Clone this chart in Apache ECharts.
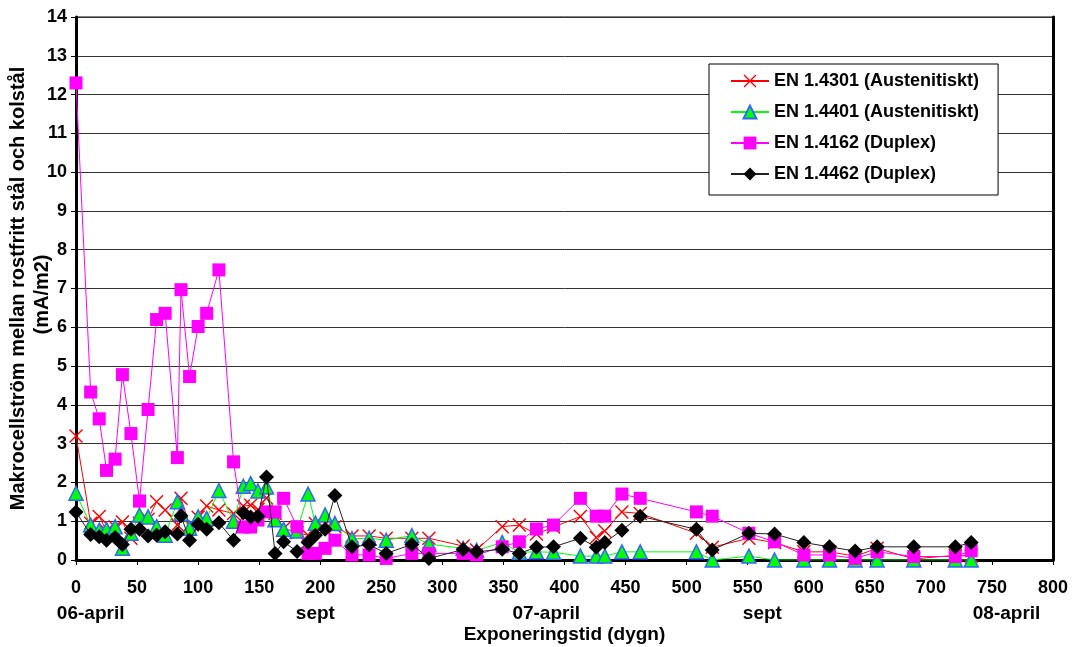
<!DOCTYPE html>
<html>
<head>
<meta charset="utf-8">
<script src="https://cdn.jsdelivr.net/npm/echarts@6/dist/echarts.min.js"></script>
<style>
  html, body { margin: 0; padding: 0; background: #fff; }
  #chart { width: 1073px; height: 647px; }
</style>
</head>
<body>
<div id="chart"></div>
<script>
// Exposure time in days for each measurement
const days = [0, 12, 19, 25, 32, 38, 45, 52, 59, 66,
  73, 83, 86, 93, 100, 107, 117, 129, 137, 143,
  149, 156, 163, 170, 181, 190, 196, 204, 212, 226,
  240, 254, 275, 289, 317, 328, 349, 363, 377, 391,
  413, 426, 433, 447, 462, 508, 521, 551, 572, 596,
  617, 638, 656, 686, 720, 733];

// Macrocell current (mA/m2) per steel grade
const en4301 = [3.2, 0.95, 1.12, 0.75, 0.85, 0.98, 0.56, 0.95, 1.05, 1.5,
  1.29, 0.9, 1.59, 0.9, 1.1, 1.39, 1.29, 1.2, 1.39, 1.41,
  1.3, 1.6, 1.2, 0.81, 0.7, 0.64, 0.94, 0.8, 0.86, 0.62,
  0.62, 0.56, 0.56, 0.56, 0.36, 0.26, 0.86, 0.9, 0.67, 0.85,
  1.12, 0.58, 0.75, 1.24, 1.2, 0.69, 0.33, 0.56, 0.45, 0.21,
  0.21, 0.1, 0.3, 0.03, 0.12, 0.1];

const en4401 = [1.72, 0.9, 0.77, 0.79, 0.86, 0.3, 0.69, 1.16, 1.11, 0.86,
  0.64, 1.5, 1.2, 0.82, 1.11, 1.07, 1.79, 1.0, 1.9, 1.97,
  1.78, 1.88, 1.04, 0.79, 0.75, 1.7, 0.95, 1.16, 0.94, 0.55,
  0.56, 0.51, 0.63, 0.41, 0.3, 0.25, 0.45, 0.2, 0.21, 0.2,
  0.1, 0.1, 0.1, 0.21, 0.21, 0.21, 0, 0.1, 0, 0,
  0, 0, 0, 0, 0, 0];

const en4162 = [12.3, 4.33, 3.64, 2.31, 2.6, 4.78, 3.26, 1.52, 3.88, 6.2,
  6.36, 2.64, 6.97, 4.73, 6.02, 6.36, 7.48, 2.53, 0.85, 0.85,
  1.03, 1.24, 1.24, 1.59, 0.86, 0.17, 0.17, 0.3, 0.51, 0.13,
  0.13, 0.04, 0.17, 0.17, 0.17, 0.13, 0.34, 0.47, 0.8, 0.9,
  1.59, 1.13, 1.13, 1.7, 1.59, 1.24, 1.13, 0.69, 0.47, 0.13,
  0.13, 0.04, 0.21, 0.09, 0.09, 0.24];

const en4462 = [1.24, 0.66, 0.6, 0.51, 0.58, 0.4, 0.79, 0.79, 0.62, 0.64,
  0.73, 0.67, 1.14, 0.51, 0.92, 0.79, 0.96, 0.51, 1.22, 1.11,
  1.13, 2.14, 0.17, 0.47, 0.22, 0.45, 0.64, 0.79, 1.66, 0.34,
  0.39, 0.17, 0.4, 0.04, 0.27, 0.21, 0.28, 0.17, 0.33, 0.34,
  0.56, 0.33, 0.45, 0.77, 1.13, 0.79, 0.26, 0.69, 0.67, 0.45,
  0.34, 0.23, 0.34, 0.34, 0.34, 0.45];

const seriesNames = ['EN 1.4301 (Austenitiskt)', 'EN 1.4401 (Austenitiskt)',
  'EN 1.4162 (Duplex)', 'EN 1.4462 (Duplex)'];

// Calendar markers under the day axis
const dateLabels = ['06-april', 'sept', '07-april', 'sept', '08-april'];
const dateLabelDays = [12, 196, 385, 562, 762];

// Vertical axis title, two lines
const yTitleLines = ['Makrocellström mellan rostfritt stål och kolstål', '(mA/m2)'];

const FONT = '"Liberation Sans", Arial, sans-serif';
const pairs = vals => days.map((d, i) => [d, vals[i]]);

// thin X-shaped marker
const crossPath = 'path://M0,1 L1,0 L7,6 L13,0 L14,1 L8,7 L14,13 L13,14 L7,8 L1,14 L0,13 L6,7 Z';

const chart = echarts.init(document.getElementById('chart'), null, { renderer: 'canvas' });

const option = {
  animation: false,
  backgroundColor: '#fff',
  textStyle: { fontFamily: FONT },
  grid: {
    left: 76, right: 20, top: 17, bottom: 87,
    containLabel: false, outerBoundsMode: 'none',
    show: true, borderColor: '#000', borderWidth: 1
  },
  legend: {
    orient: 'vertical',
    left: 709,
    top: 64,
    padding: [8, 19, 12, 21],
    itemGap: 13,
    itemWidth: 38,
    itemHeight: 16,
    backgroundColor: '#fff',
    borderColor: '#000',
    borderWidth: 1,
    textStyle: { fontFamily: FONT, fontWeight: 'bold', fontSize: 18, color: '#000' },
    data: seriesNames
  },
  xAxis: {
    type: 'value',
    min: 0, max: 800, interval: 50,
    name: 'Exponeringstid (dygn)',
    nameLocation: 'middle',
    nameGap: 65,
    nameTextStyle: { fontFamily: FONT, fontWeight: 'bold', fontSize: 19, color: '#000' },
    axisLine: { show: true, onZero: false, lineStyle: { color: '#000', width: 3 } },
    axisTick: { show: true, inside: false, length: 5, lineStyle: { color: '#000', width: 1 } },
    axisLabel: { fontFamily: FONT, fontWeight: 'bold', fontSize: 18, color: '#000', margin: 19 },
    splitLine: { show: false }
  },
  yAxis: [{
    type: 'value',
    min: 0, max: 14, interval: 1,
    axisLine: { show: true, lineStyle: { color: '#000', width: 3 } },
    axisTick: { show: true, inside: false, length: 5, lineStyle: { color: '#000' } },
    axisLabel: { fontFamily: FONT, fontWeight: 'bold', fontSize: 18, color: '#000', margin: 9 },
    splitLine: { show: true, lineStyle: { color: '#333', width: 1 } }
  }, {
    type: 'value',
    position: 'right',
    min: 0, max: 14, interval: 1,
    axisLine: { show: true, lineStyle: { color: '#000', width: 3 } },
    axisTick: { show: false },
    axisLabel: { show: false },
    splitLine: { show: false }
  }],
  series: [
    {
      name: seriesNames[0], type: 'line', data: pairs(en4301),
      symbol: crossPath, symbolSize: 14,
      lineStyle: { color: '#ff0000', width: 1 },
      itemStyle: { color: '#ff0000' }, z: 2
    },
    {
      name: seriesNames[1], type: 'line', data: pairs(en4401),
      symbol: 'triangle', symbolSize: 14,
      lineStyle: { color: '#00ff00', width: 1 },
      itemStyle: { color: '#00ff00', borderColor: '#3366ff', borderWidth: 1.5 }, z: 3
    },
    {
      name: seriesNames[2], type: 'line', data: pairs(en4162),
      symbol: 'rect', symbolSize: 13,
      lineStyle: { color: '#ff00ff', width: 1 },
      itemStyle: { color: '#ff00ff' }, z: 4
    },
    {
      name: seriesNames[3], type: 'line', data: pairs(en4462),
      symbol: 'diamond', symbolSize: 15,
      lineStyle: { color: '#222', width: 1 },
      itemStyle: { color: '#000' }, z: 5
    }
  ]
};

chart.setOption(option);

// second row of x labels: calendar dates placed at their day positions
const graphics = dateLabels.map((t, i) => {
  const px = chart.convertToPixel({ xAxisIndex: 0 }, dateLabelDays[i]);
  return {
    type: 'text',
    x: px, y: 614,
    style: {
      text: t, fontFamily: FONT, fontWeight: 'bold', fontSize: 19,
      fill: '#000', align: 'center', verticalAlign: 'middle'
    }
  };
});

// rotated y-axis title, centred on the plot's vertical middle
const yMid = chart.convertToPixel({ yAxisIndex: 0 }, 7);
const yTitleX = [18, 42];
const yTitleDy = [0, 6];
yTitleLines.forEach((t, i) => {
  graphics.push({
    type: 'text',
    x: yTitleX[i], y: yMid + yTitleDy[i],
    rotation: Math.PI / 2,
    style: {
      text: t, fontFamily: FONT, fontWeight: 'bold', fontSize: 20,
      fill: '#000', align: 'center', verticalAlign: 'middle'
    }
  });
});

chart.setOption({ graphic: graphics });
</script>
</body>
</html>
